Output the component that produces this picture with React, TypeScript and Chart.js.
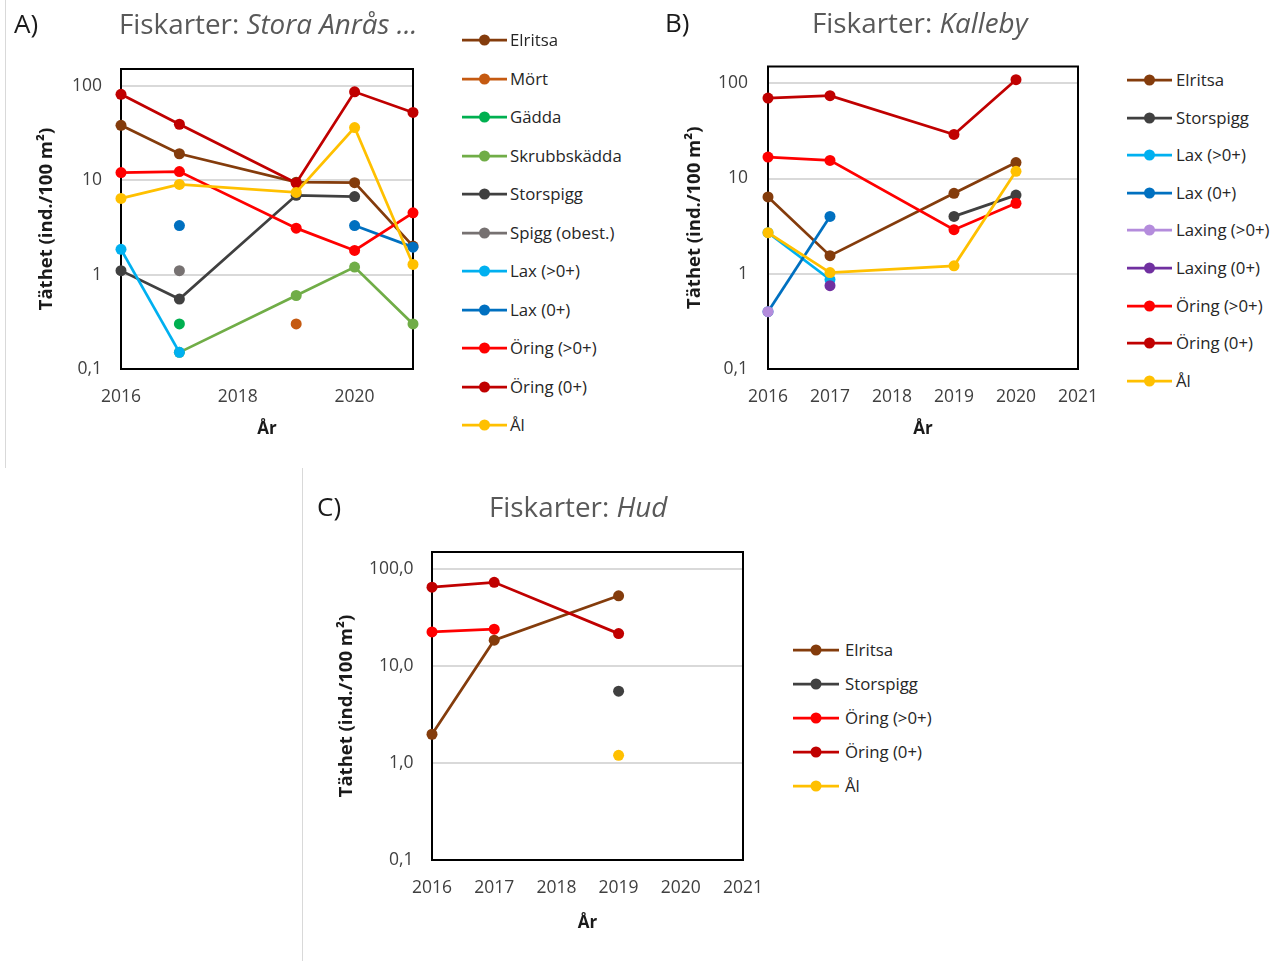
import React, { useEffect, useRef } from "react";
import { Chart, registerables } from "chart.js";

Chart.register(...registerables);
Chart.defaults.font.family = "'Open Sans', Lato, sans-serif";

// ---------- Data ----------
const yearsA = [2016, 2017, 2019, 2020, 2021];
const elritsaA = [38, 19, 9.5, 9.4, 2.0];
const mortA = [null, null, 0.3, null, null];
const gaddaA = [null, 0.3, null, null, null];
const skrubbA = [null, 0.15, 0.6, 1.2, 0.3];
const storspiggA = [1.1, 0.55, 6.9, 6.7, null];
const spiggObestA = [null, 1.1, null, null, null];
const laxAdultA = [1.85, 0.15, null, null, null];
const laxYoungA = [null, 3.3, null, 3.3, 1.95];
const oringAdultA = [12, 12.3, 3.1, 1.8, 4.5];
const oringYoungA = [81, 39, 9.3, 86, 52];
const alA = [6.4, 9.0, 7.4, 36, 1.28];

const yearsB = [2016, 2017, 2019, 2020];
const elritsaB = [6.4, 1.55, 7.0, 14.7];
const storspiggB = [null, null, 4.0, 6.7];
const laxAdultB = [2.7, 0.87, null, null];
const laxYoungB = [0.4, 4.0, null, null];
const laxingAdultB = [0.4, null, null, null];
const laxingYoungB = [null, 0.75, null, null];
const oringAdultB = [16.8, 15.5, 2.9, 5.5];
const oringYoungB = [70, 74, 29, 109];
const alB = [2.7, 1.03, 1.21, 11.9];

const yearsC = [2016, 2017, 2019];
const elritsaC = [1.98, 18.5, 53];
const storspiggC = [null, null, 5.5];
const oringAdultC = [22.5, 24, null];
const oringYoungC = [65, 73, 21.6];
const alC = [null, null, 1.2];

const yTickValues = [0.1, 1, 10, 100];
const yTickLabelsAB = ["0,1", "1", "10", "100"];
const yTickLabelsC = ["0,1", "1,0", "10,0", "100,0"];
const xTicksA = [2016, 2018, 2020];
const xTicksBC = [2016, 2017, 2018, 2019, 2020, 2021];

const yTitle = "Täthet (ind./100 m²)";
const xTitle = "År";

// ---------- Styles ----------
const FONT = "'Open Sans', Lato, sans-serif";
const COL: Record<string, string> = {
  "Elritsa": "#843C0C",
  "Mört": "#C55A11",
  "Gädda": "#00B050",
  "Skrubbskädda": "#70AD47",
  "Storspigg": "#404040",
  "Spigg (obest.)": "#767171",
  "Lax (>0+)": "#00B0F0",
  "Lax (0+)": "#0070C0",
  "Laxing (>0+)": "#B48CDC",
  "Laxing (0+)": "#7030A0",
  "Öring (>0+)": "#FF0000",
  "Öring (0+)": "#C00000",
  "Ål": "#FFC000",
};

type Series = { name: string; values: (number | null)[] };

const seriesA: Series[] = [
  { name: "Elritsa", values: elritsaA },
  { name: "Mört", values: mortA },
  { name: "Gädda", values: gaddaA },
  { name: "Skrubbskädda", values: skrubbA },
  { name: "Storspigg", values: storspiggA },
  { name: "Spigg (obest.)", values: spiggObestA },
  { name: "Lax (>0+)", values: laxAdultA },
  { name: "Lax (0+)", values: laxYoungA },
  { name: "Öring (>0+)", values: oringAdultA },
  { name: "Öring (0+)", values: oringYoungA },
  { name: "Ål", values: alA },
];
const seriesB: Series[] = [
  { name: "Elritsa", values: elritsaB },
  { name: "Storspigg", values: storspiggB },
  { name: "Lax (>0+)", values: laxAdultB },
  { name: "Lax (0+)", values: laxYoungB },
  { name: "Laxing (>0+)", values: laxingAdultB },
  { name: "Laxing (0+)", values: laxingYoungB },
  { name: "Öring (>0+)", values: oringAdultB },
  { name: "Öring (0+)", values: oringYoungB },
  { name: "Ål", values: alB },
];
const seriesC: Series[] = [
  { name: "Elritsa", values: elritsaC },
  { name: "Storspigg", values: storspiggC },
  { name: "Öring (>0+)", values: oringAdultC },
  { name: "Öring (0+)", values: oringYoungC },
  { name: "Ål", values: alC },
];

type Geo = {
  L: number; T: number; R: number; B: number;
  yTitleX: number; yTickPad: number; xTickOff: number; xTitleOff: number;
};

const TICK_FS = 17.5;
const TICK_LH = TICK_FS * 1.2;
const YT_FS = 18.5;
const YT_LH = YT_FS * 1.2;
const XT_FS = 17;
const XT_LH = XT_FS * 1.2;

const framePlugin = {
  id: "frame",
  beforeDatasetsDraw(chart: any) {
    const { ctx, chartArea: a } = chart;
    ctx.save();
    ctx.strokeStyle = "#000";
    ctx.lineWidth = 2;
    ctx.strokeRect(a.left, a.top, a.right - a.left, a.bottom - a.top);
    ctx.restore();
  },
};

function PanelChart(props: {
  geo: Geo; years: number[]; series: Series[]; xTicks: number[]; yLabels: string[];
}) {
  const { geo, years, series, xTicks, yLabels } = props;
  const ref = useRef<HTMLCanvasElement>(null);
  const cl = geo.L - 115;
  const ct = geo.T - 30;
  const cr = geo.R + 45;
  const cb = geo.B + 95;
  const cw = cr - cl;
  const ch = cb - ct;
  const padL = geo.yTitleX - cl - YT_LH / 2;
  const yW = geo.L - (cl + padL);
  const xH = geo.xTitleOff + XT_LH / 2;
  const padB = cb - (geo.B + xH);

  useEffect(() => {
    const n = series.length;
    const chart = new Chart(ref.current as HTMLCanvasElement, {
      type: "line",
      data: {
        datasets: series.map((s, i) => ({
          label: s.name,
          data: years.map((x, j) => ({ x, y: s.values[j] })) as any,
          borderColor: COL[s.name],
          backgroundColor: COL[s.name],
          pointBackgroundColor: COL[s.name],
          pointBorderColor: COL[s.name],
          pointRadius: 5.5,
          pointBorderWidth: 0,
          borderWidth: 2.75,
          tension: 0,
          spanGaps: false,
          clip: false as any,
          order: n - i,
        })),
      },
      options: {
        responsive: false,
        maintainAspectRatio: false,
        animation: false,
        events: [],
        layout: {
          padding: { left: padL, top: geo.T - ct, right: cr - geo.R, bottom: padB },
        },
        plugins: { legend: { display: false }, tooltip: { enabled: false }, title: { display: false } },
        scales: {
          x: {
            type: "linear",
            min: 2016,
            max: 2021,
            afterBuildTicks: (s: any) => {
              s.ticks = xTicks.map((v) => ({ value: v }));
            },
            afterFit: (s: any) => {
              s.height = xH;
            },
            ticks: {
              autoSkip: false,
              maxRotation: 0,
              padding: geo.xTickOff - TICK_LH / 2,
              color: "#404040",
              font: { family: FONT, size: TICK_FS, lineHeight: 1.2 },
              callback: (v: any) => String(v),
            },
            grid: { display: false, drawTicks: false },
            border: { display: false },
            title: {
              display: true,
              text: xTitle,
              color: "#1a1a1a",
              padding: 0,
              font: { family: FONT, size: XT_FS, weight: "bold", lineHeight: 1.2 },
            },
          },
          y: {
            type: "logarithmic",
            min: 0.1,
            max: 150,
            afterBuildTicks: (s: any) => {
              s.ticks = yTickValues.map((v) => ({ value: v }));
            },
            afterFit: (s: any) => {
              s.width = yW;
            },
            ticks: {
              autoSkip: false,
              padding: geo.yTickPad,
              color: "#404040",
              font: { family: FONT, size: TICK_FS, lineHeight: 1.2 },
              callback: (_v: any, idx: number) => yLabels[idx],
            },
            grid: { color: "#D9D9D9", lineWidth: 2, drawTicks: false },
            border: { display: false },
            title: {
              display: true,
              text: yTitle,
              color: "#1a1a1a",
              padding: 0,
              font: { family: FONT, size: YT_FS, weight: "bold", lineHeight: 1.2 },
            },
          },
        },
      } as any,
      plugins: [framePlugin],
    });
    return () => chart.destroy();
  }, []);

  return (
    <canvas
      ref={ref}
      width={cw}
      height={ch}
      style={{ position: "absolute", left: cl, top: ct, width: cw, height: ch }}
    />
  );
}

function Legend(props: { series: Series[]; x1: number; x2: number; textX: number; y0: number; step: number }) {
  const { series, x1, x2, textX, y0, step } = props;
  const w = x2 - x1;
  return (
    <>
      {series.map((s, i) => {
        const cy = y0 + i * step;
        return (
          <div key={s.name} style={{ position: "absolute", left: x1, top: cy - 12, height: 24, display: "flex", alignItems: "center", whiteSpace: "nowrap" }}>
            <svg width={w} height={24} style={{ display: "block" }}>
              <line x1={0} y1={12} x2={w} y2={12} stroke={COL[s.name]} strokeWidth={2.75} />
              <circle cx={w / 2} cy={12} r={5.5} fill={COL[s.name]} />
            </svg>
            <span style={{ marginLeft: textX - x2, fontSize: 16.8, color: "#262626", lineHeight: "24px" }}>{s.name}</span>
          </div>
        );
      })}
    </>
  );
}

function Title(props: { letter: string; lx: number; tx: number; cy: number; site: string }) {
  const { letter, lx, tx, cy, site } = props;
  return (
    <>
      <div style={{ position: "absolute", left: lx, top: cy - 18, height: 36, lineHeight: "36px", fontSize: 26, color: "#1a1a1a", whiteSpace: "nowrap" }}>{letter}</div>
      <div style={{ position: "absolute", left: tx, top: cy - 18, height: 36, lineHeight: "36px", fontSize: 27.8, color: "#595959", whiteSpace: "nowrap" }}>
        Fiskarter: <i>{site}</i>
      </div>
    </>
  );
}

const geoA: Geo = { L: 121, T: 69, R: 413, B: 369, yTitleX: 47, yTickPad: 19, xTickOff: 28, xTitleOff: 60 };
const geoB: Geo = { L: 768, T: 66, R: 1078, B: 369, yTitleX: 695, yTickPad: 20, xTickOff: 28, xTitleOff: 60 };
const geoC: Geo = { L: 432, T: 552, R: 743, B: 860, yTitleX: 347, yTickPad: 18.5, xTickOff: 28.5, xTitleOff: 63.5 };

export default function App() {
  return (
    <div style={{ position: "absolute", left: 0, top: 0, width: 1278, height: 961, background: "#fff", fontFamily: FONT, overflow: "hidden" }}>
      <div style={{ position: "absolute", left: 5, top: 0, width: 1, height: 468, background: "#D9D9D9" }} />
      <div style={{ position: "absolute", left: 302, top: 468, width: 1, height: 493, background: "#D9D9D9" }} />

      <PanelChart geo={geoA} years={yearsA} series={seriesA} xTicks={xTicksA} yLabels={yTickLabelsAB} />
      <PanelChart geo={geoB} years={yearsB} series={seriesB} xTicks={xTicksBC} yLabels={yTickLabelsAB} />
      <PanelChart geo={geoC} years={yearsC} series={seriesC} xTicks={xTicksBC} yLabels={yTickLabelsC} />

      <Title letter="A)" lx={14} tx={119} cy={23} site="Stora Anrås ..." />
      <Title letter="B)" lx={665} tx={812} cy={22} site="Kalleby" />
      <Title letter="C)" lx={317} tx={489} cy={506} site="Hud" />

      <Legend series={seriesA} x1={462} x2={507} textX={510} y0={40} step={38.5} />
      <Legend series={seriesB} x1={1127} x2={1172} textX={1176} y0={80} step={37.6} />
      <Legend series={seriesC} x1={793} x2={839} textX={845} y0={650} step={34} />
    </div>
  );
}
